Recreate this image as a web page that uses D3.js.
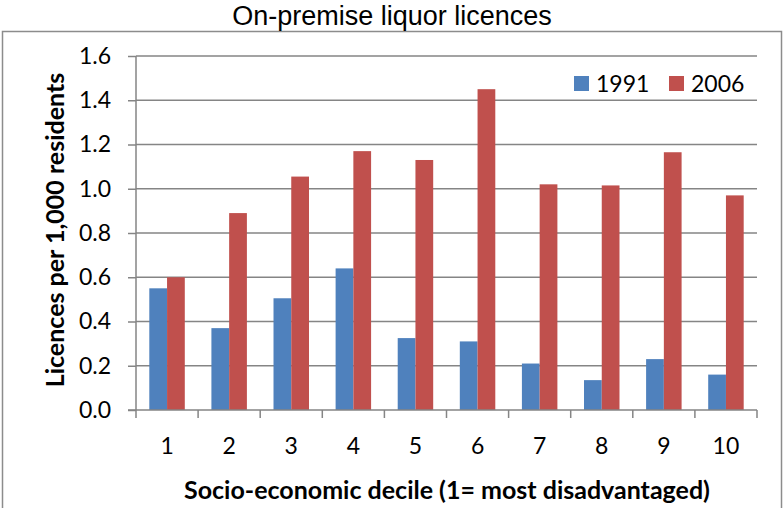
<!DOCTYPE html>
<html>
<head>
<meta charset="utf-8">
<script src="https://cdn.jsdelivr.net/npm/d3@7"></script>
<style>
  html, body { margin: 0; padding: 0; background: #fff; }
  svg { display: block; }
</style>
</head>
<body>
<svg id="chart" width="783" height="508"></svg>
<script>
// Licence rates by socio-economic decile
const deciles = ["1", "2", "3", "4", "5", "6", "7", "8", "9", "10"];
const seriesNames = ["1991", "2006"];
const values1991 = [0.55, 0.37, 0.505, 0.64, 0.325, 0.31, 0.21, 0.135, 0.23, 0.16];
const values2006 = [0.60, 0.89, 1.055, 1.17, 1.13, 1.45, 1.02, 1.015, 1.165, 0.97];
const yTicks = [0, 0.2, 0.4, 0.6, 0.8, 1.0, 1.2, 1.4, 1.6];
const colors = ["#4F81BD", "#C0504D"];

const svg = d3.select("#chart");
const plot = { left: 136, right: 757, top: 56, bottom: 410 };
const labelFont = "Lato, 'Open Sans', sans-serif";
const axisGrey = "#858585";

// outer frame
svg.append("rect")
  .attr("x", 2.5).attr("y", 31.5)
  .attr("width", 779).attr("height", 490)
  .attr("fill", "#fff").attr("stroke", "#8c8c8c").attr("stroke-width", 1.5);

// title
svg.append("text")
  .attr("x", 392).attr("y", 25)
  .attr("text-anchor", "middle")
  .style("font-family", "'Liberation Sans', Arial, sans-serif")
  .style("font-size", "27px")
  .attr("fill", "#000")
  .text("On-premise liquor licences");

const x0 = d3.scaleBand().domain(deciles).range([plot.left, plot.right]);
// bars take 2 of 3.5 units of each category; the rest is the gap between groups
const x1 = d3.scaleBand().domain(seriesNames)
  .range([x0.bandwidth() * 0.75 / 3.5, x0.bandwidth() * (1 - 0.75 / 3.5)]);
const y = d3.scaleLinear().domain([0, 1.6]).range([plot.bottom, plot.top]);

// gridlines
svg.append("g")
  .selectAll("line").data(yTicks.filter(d => d > 0)).join("line")
  .attr("x1", plot.left).attr("x2", plot.right)
  .attr("y1", d => y(d)).attr("y2", d => y(d))
  .attr("stroke", axisGrey).attr("stroke-width", 1.5);

// bars
const rows = deciles.map((d, i) => ({ decile: d, vals: [values1991[i], values2006[i]] }));
const groups = svg.append("g").selectAll("g").data(rows).join("g")
  .attr("transform", d => `translate(${x0(d.decile)},0)`);
groups.selectAll("rect")
  .data(d => d.vals.map((v, j) => ({ key: seriesNames[j], v, j })))
  .join("rect")
  .attr("x", d => x1(d.key))
  .attr("width", x1.bandwidth())
  .attr("y", d => y(d.v))
  .attr("height", d => y(0) - y(d.v))
  .attr("fill", d => colors[d.j]);

// y axis
const yAxis = d3.axisLeft(y).tickValues(yTicks).tickFormat(d3.format(".1f")).tickSize(8).tickPadding(17);
const gy = svg.append("g").attr("transform", `translate(${plot.left},0)`).call(yAxis);
gy.select(".domain").attr("stroke", axisGrey).attr("stroke-width", 1.5).attr("d", `M0,${plot.top}V${plot.bottom}`);
gy.selectAll(".tick line").attr("stroke", axisGrey).attr("stroke-width", 1.5);
gy.selectAll(".tick text")
  .style("font-family", labelFont).style("font-size", "23px").attr("fill", "#000");

// x axis: ticks at category boundaries, labels at centres
const gx = svg.append("g").attr("transform", `translate(0,${plot.bottom})`);
const boundaries = deciles.map(d => x0(d)).concat([plot.right]);
gx.append("line").attr("x1", plot.left - 8).attr("x2", plot.right)
  .attr("stroke", axisGrey).attr("stroke-width", 1.5);
gx.selectAll("line.tk").data(boundaries).join("line").attr("class", "tk")
  .attr("x1", d => d).attr("x2", d => d).attr("y1", 0).attr("y2", 8)
  .attr("stroke", axisGrey).attr("stroke-width", 1.5);
gx.selectAll("text").data(deciles).join("text")
  .attr("x", d => x0(d) + x0.bandwidth() / 2)
  .attr("y", 44)
  .attr("text-anchor", "middle")
  .style("font-family", labelFont).style("font-size", "23px")
  .text(d => d);

// axis titles
svg.append("text")
  .attr("x", 447).attr("y", 499)
  .attr("text-anchor", "middle")
  .style("font-family", labelFont).style("font-size", "25px").style("font-weight", "bold")
  .text("Socio-economic decile (1= most disadvantaged)");
svg.append("text")
  .attr("transform", "translate(64,230) rotate(-90)")
  .attr("text-anchor", "middle")
  .style("font-family", labelFont).style("font-size", "25px").style("font-weight", "bold")
  .text("Licences per 1,000 residents");

// legend
const legend = svg.append("g").attr("transform", "translate(574,76)");
const items = legend.selectAll("g").data(seriesNames).join("g")
  .attr("transform", (d, i) => `translate(${i * 95},0)`);
items.append("rect").attr("width", 15).attr("height", 15).attr("fill", (d, i) => colors[i]);
items.append("text").attr("x", 22).attr("y", 16)
  .style("font-family", labelFont).style("font-size", "23px")
  .text(d => d);
</script>
</body>
</html>
